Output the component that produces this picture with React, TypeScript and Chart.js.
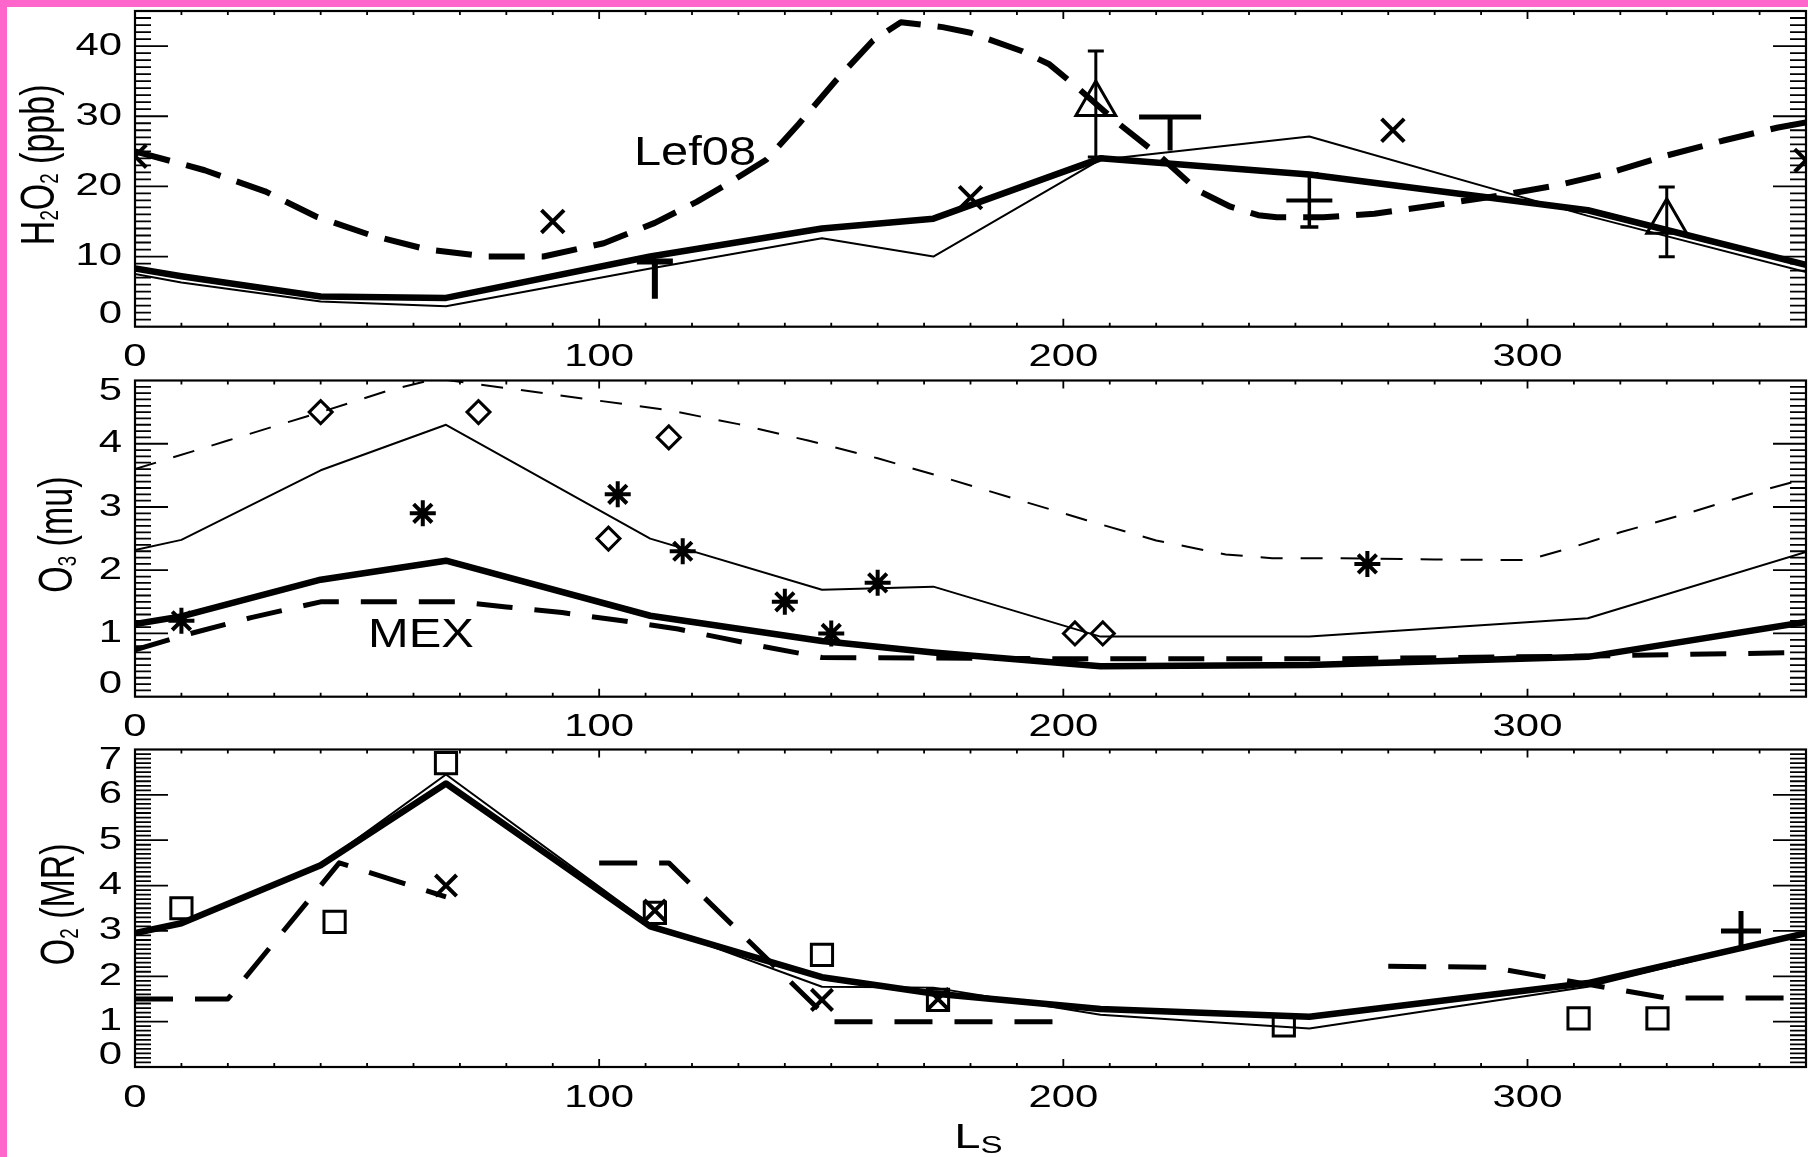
import React, { useEffect, useRef } from "react";
import { Chart, registerables } from "chart.js";

Chart.register(...registerables);

// ---------------- data ----------------
const lsTicks = [0, 100, 200, 300];
const modelLs = [0, 10, 40, 67, 111, 148, 172, 208, 253, 313, 360];

// Panel 1 : H2O2 (ppb)
const h2o2Ticks = [0, 10, 20, 30, 40];
const h2o2Thick = [8.3, 7.2, 4.3, 4.1, 10.0, 14.0, 15.4, 24.0, 21.7, 16.6, 8.8];
const h2o2Thin = [7.5, 6.3, 3.6, 2.9, 8.3, 12.6, 10.0, 23.8, 27.1, 15.8, 7.8];
const lef08Ls = [0, 15, 28, 39, 51, 63, 76, 88, 101, 112, 121, 128, 136, 143, 151, 159, 165, 174, 180, 191, 197, 203, 212, 221, 229, 236, 242, 246, 256, 267, 280, 294, 306, 317, 330, 342, 354, 360];
const lef08 = [25, 22.3, 19.3, 15.7, 13.0, 11.0, 10.0, 10.0, 11.9, 14.8, 17.8, 20.5, 23.8, 28.9, 35.1, 40.8, 43.4, 42.7, 41.9, 39.3, 37.4, 34.1, 28.9, 24.2, 19.4, 17.1, 15.9, 15.6, 15.6, 16.1, 17.3, 18.7, 20.1, 21.8, 24.4, 26.5, 28.4, 29.1];
const h2o2CrossLs = [0, 90, 180, 271, 360];
const h2o2Cross = [24.3, 15.0, 18.4, 28.0, 23.7];
const h2o2TriLs = [207, 330];
const h2o2Tri = [31.75, 14.95];
const h2o2TriErr = [7.55, 4.97];
const h2o2LimLs = [112, 223];
const h2o2LimTop = [9.3, 29.9];
const h2o2LimBase = [4.0, 25.1];
const h2o2PlusLs = [253];
const h2o2Plus = [18.0];
const h2o2PlusErr = [3.8];

// Panel 2 : O3 (mu)
const o3Ticks = [0, 1, 2, 3, 4, 5];
const o3Thick = [1.15, 1.27, 1.85, 2.15, 1.28, 0.88, 0.7, 0.48, 0.5, 0.63, 1.18];
const o3Thin = [2.32, 2.48, 3.58, 4.3, 2.5, 1.69, 1.74, 0.95, 0.95, 1.24, 2.29];
const o3DashLs = [0, 20, 40, 55, 65, 80, 100, 115, 130, 145, 160, 175, 190, 205, 220, 235, 245, 260, 280, 300, 310, 320, 335, 350, 360];
const o3Dash = [3.6, 4.05, 4.5, 4.85, 5.03, 4.88, 4.68, 4.53, 4.31, 4.05, 3.77, 3.45, 3.12, 2.79, 2.47, 2.25, 2.19, 2.19, 2.17, 2.16, 2.37, 2.6, 2.91, 3.25, 3.45];
const mexLs = [0, 12, 25, 40, 70, 80, 92, 105, 117, 125, 135, 148, 200, 260, 310, 360];
const mex = [0.74, 1.0, 1.25, 1.5, 1.5, 1.42, 1.33, 1.2, 1.07, 0.95, 0.8, 0.62, 0.6, 0.6, 0.64, 0.7];
const o3DiamondLs = [40, 74, 102, 115, 202.5, 208.5];
const o3Diamond = [4.5, 4.5, 2.5, 4.1, 1.0, 1.0];
const o3StarLs = [10, 62, 104, 118, 140, 150, 160, 265.5];
const o3Star = [1.2, 2.9, 3.2, 2.3, 1.5, 1.0, 1.8, 2.1];

// Panel 3 : O2 (MR)
const o2Ticks = [0, 1, 2, 3, 4, 5, 6, 7];
const o2Thick = [2.95, 3.17, 4.45, 6.25, 3.1, 1.98, 1.62, 1.28, 1.11, 1.85, 2.95];
const o2Thin = [2.95, 3.15, 4.45, 6.45, 3.15, 1.77, 1.75, 1.15, 0.85, 1.77, 2.95];
const o2DashALs = [0, 20, 44, 67];
const o2DashA = [1.5, 1.5, 4.5, 3.75];
const o2DashBLs = [100, 115, 150, 200];
const o2DashB = [4.5, 4.5, 1.0, 1.0];
const o2DashCLs = [270, 292, 330, 360];
const o2DashC = [2.22, 2.2, 1.52, 1.52];
const o2SquareLs = [10, 43, 67, 112, 148, 173, 247.5, 311, 328];
const o2Square = [3.5, 3.2, 6.7, 3.4, 2.47, 1.48, 0.92, 1.07, 1.07];
const o2CrossLs = [67, 112, 148, 173];
const o2Cross = [4.0, 3.45, 1.48, 1.5];
const o2PlusLs = [346];
const o2Plus = [3.0];

// ---------------- helpers ----------------
const BLACK = "#000";
const FONT = '"Liberation Sans", Arial, Helvetica, sans-serif';
const pts = (xs: number[], ys: number[]) => xs.map((x, i) => ({ x, y: ys[i] }));

function lineDs(xs: number[], ys: number[], width: number, dash: number[] = []) {
  return {
    data: pts(xs, ys),
    showLine: true,
    borderColor: BLACK,
    borderWidth: width,
    borderDash: dash,
    borderCapStyle: "butt",
    borderJoinStyle: "round",
    pointRadius: 0,
    fill: false,
    tension: 0,
    clip: 0,
  };
}

function markerDs(xs: number[], ys: number[], style: string, radius: number, width: number) {
  return {
    data: pts(xs, ys),
    showLine: false,
    pointStyle: style,
    pointRadius: radius,
    pointBorderWidth: width,
    pointBorderColor: BLACK,
    pointBackgroundColor: "rgba(0,0,0,0)",
    clip: 0,
  };
}

function barDs(x: number, lo: number, hi: number, capLo: number, capHi: number, width: number) {
  return {
    data: [{ x, y: lo }, { x, y: hi }],
    showLine: true,
    borderColor: BLACK,
    borderWidth: width,
    pointStyle: "line",
    pointRadius: [capLo, capHi],
    pointBorderWidth: width,
    pointBorderColor: BLACK,
    clip: 0,
  };
}

type Seg = { t: string; sub?: boolean };

function richWidth(ctx: any, segs: Seg[], size: number, subRatio: number) {
  let w = 0;
  for (const s of segs) {
    ctx.font = `${s.sub ? size * subRatio : size}px ${FONT}`;
    w += ctx.measureText(s.t).width;
  }
  return w;
}

function drawRich(ctx: any, segs: Seg[], x0: number, size: number, subRatio: number, subDrop: number) {
  let x = x0;
  for (const s of segs) {
    ctx.font = `${s.sub ? size * subRatio : size}px ${FONT}`;
    ctx.fillText(s.t, x, s.sub ? subDrop : 0);
    x += ctx.measureText(s.t).width;
  }
}

const SX = 1.35;

const idlPlugin = {
  id: "idl",
  afterDraw(chart: any) {
    const o = chart.options.plugins.idl;
    if (!o) return;
    const ctx = chart.ctx;
    const a = chart.chartArea;
    const xs = chart.scales.x;
    const ys = chart.scales.y;
    ctx.save();
    ctx.strokeStyle = BLACK;
    ctx.fillStyle = BLACK;
    ctx.lineCap = "butt";

    // ticks on all four sides
    ctx.lineWidth = 1.8;
    ctx.beginPath();
    const nY = Math.round((ys.max - ys.min) / o.yMinor);
    for (let i = 1; i < nY; i++) {
      const v = ys.min + i * o.yMinor;
      const y = ys.getPixelForValue(v);
      const major = o.yTicks.some((t: number) => Math.abs(t - v) < 1e-6);
      const len = major ? 33 : 16;
      ctx.moveTo(a.left, y);
      ctx.lineTo(a.left + len, y);
      ctx.moveTo(a.right, y);
      ctx.lineTo(a.right - len, y);
    }
    const nX = Math.round((xs.max - xs.min) / 10);
    for (let i = 1; i < nX; i++) {
      const v = xs.min + i * 10;
      const x = xs.getPixelForValue(v);
      const major = lsTicks.some((t) => Math.abs(t - v) < 1e-6);
      const len = major ? 8 : 4;
      ctx.moveTo(x, a.bottom);
      ctx.lineTo(x, a.bottom - len);
      ctx.moveTo(x, a.top);
      ctx.lineTo(x, a.top + len);
    }
    ctx.stroke();

    // frame
    ctx.lineWidth = 2.2;
    ctx.strokeRect(a.left, a.top, a.right - a.left, a.bottom - a.top);

    // tick labels
    const tf = 31;
    ctx.font = `${tf}px ${FONT}`;
    ctx.textBaseline = "middle";
    for (const t of o.yTicks) {
      let y = ys.getPixelForValue(t);
      y = Math.min(Math.max(y, a.top + 11), a.bottom - 12);
      ctx.save();
      ctx.translate(a.left - 13, y);
      ctx.scale(SX, 1);
      ctx.textAlign = "right";
      ctx.fillText(String(t), 0, 0);
      ctx.restore();
    }
    for (const t of lsTicks) {
      const x = xs.getPixelForValue(t);
      ctx.save();
      ctx.translate(x, a.bottom + 31);
      ctx.scale(SX, 1);
      ctx.textAlign = "center";
      ctx.fillText(String(t), 0, 0);
      ctx.restore();
    }

    // y title (rotated, with subscripts)
    ctx.textBaseline = "alphabetic";
    ctx.textAlign = "left";
    {
      const size = 34;
      const w = richWidth(ctx, o.title, size, 0.55);
      ctx.save();
      ctx.translate(o.titleX, (a.top + a.bottom) / 2 - 4);
      ctx.rotate(-Math.PI / 2);
      ctx.scale(1, 1.42);
      drawRich(ctx, o.title, -w / 2, size, 0.55, 3);
      ctx.restore();
    }

    // in-plot annotation
    if (o.note) {
      const x = xs.getPixelForValue(o.note.ls);
      const y = ys.getPixelForValue(o.note.v);
      ctx.save();
      ctx.translate(x, y);
      ctx.scale(1.22, 1);
      ctx.font = `40px ${FONT}`;
      ctx.fillText(o.note.text, 0, 0);
      ctx.restore();
    }

    // x title
    if (o.xTitle) {
      const size = 35;
      const w = richWidth(ctx, o.xTitle, size, 0.7);
      ctx.save();
      ctx.translate((a.left + a.right) / 2 + 8, a.bottom + 81);
      ctx.scale(1.35, 1);
      drawRich(ctx, o.xTitle, -w / 2, size, 0.7, 5);
      ctx.restore();
    }
    ctx.restore();
  },
};

function makeConfig(datasets: any[], yMax: number, pad: any, idl: any) {
  return {
    type: "scatter",
    data: { datasets },
    options: {
      responsive: false,
      animation: false,
      devicePixelRatio: 1,
      events: [],
      layout: { padding: pad, autoPadding: false },
      scales: {
        x: { type: "linear", min: 0, max: 360, display: false },
        y: { type: "linear", min: 0, max: yMax, display: false },
      },
      plugins: {
        legend: { display: false },
        tooltip: { enabled: false },
        idl,
      },
    },
    plugins: [idlPlugin],
  };
}

function panel1() {
  const ds: any[] = [
    markerDs(h2o2CrossLs, h2o2Cross, "crossRot", 16, 4),
    markerDs(h2o2TriLs, h2o2Tri, "triangle", 23, 3),
    markerDs(h2o2PlusLs, h2o2Plus, "line", 23, 4),
    ...h2o2TriLs.map((x, i) => barDs(x, h2o2Tri[i] - h2o2TriErr[i], h2o2Tri[i] + h2o2TriErr[i], 8, 8, 3)),
    ...h2o2PlusLs.map((x, i) => barDs(x, h2o2Plus[i] - h2o2PlusErr[i], h2o2Plus[i] + h2o2PlusErr[i], 9, 9, 3.5)),
    ...h2o2LimLs.map((x, i) => barDs(x, h2o2LimBase[i], h2o2LimTop[i], 0, i === 0 ? 18 : 31, i === 0 ? 6 : 5)),
    lineDs(lef08Ls, lef08, 6, [36, 17]),
    lineDs(modelLs, h2o2Thick, 6.5),
    lineDs(modelLs, h2o2Thin, 2),
  ];
  return makeConfig(ds, 45, { left: 135, right: 2, top: 11, bottom: 53.3 }, {
    yTicks: h2o2Ticks,
    yMinor: 1,
    titleX: 54,
    title: [{ t: "H" }, { t: "2", sub: true }, { t: "O" }, { t: "2", sub: true }, { t: " (ppb)" }],
    note: { text: "Lef08", ls: 107.5, v: 23.0 },
  });
}

function panel2() {
  const ds: any[] = [
    markerDs(o3DiamondLs, o3Diamond, "rectRot", 11.5, 3),
    markerDs(o3StarLs, o3Star, "star", 13, 4),
    lineDs(mexLs, mex, 5, [36, 22]),
    lineDs(o3DashLs, o3Dash, 2, [22, 18]),
    lineDs(modelLs, o3Thick, 6.5),
    lineDs(modelLs, o3Thin, 2),
  ];
  return makeConfig(ds, 5, { left: 135, right: 2, top: 40.5, bottom: 48.3 }, {
    yTicks: o3Ticks,
    yMinor: 0.1,
    titleX: 72,
    title: [{ t: "O" }, { t: "3", sub: true }, { t: " (mu)" }],
    note: { text: "MEX", ls: 50.2, v: 0.78 },
  });
}

function panel3() {
  const ds: any[] = [
    markerDs(o2SquareLs, o2Square, "rect", 15, 3),
    markerDs(o2CrossLs, o2Cross, "crossRot", 15, 4),
    markerDs(o2PlusLs, o2Plus, "cross", 20, 5),
    lineDs(o2DashALs, o2DashA, 5, [38, 22]),
    lineDs(o2DashBLs, o2DashB, 5, [38, 22]),
    lineDs(o2DashCLs, o2DashC, 5, [38, 22]),
    lineDs(modelLs, o2Thick, 6.5),
    lineDs(modelLs, o2Thin, 2),
  ];
  return makeConfig(ds, 7, { left: 135, right: 2, top: 44.5, bottom: 90 }, {
    yTicks: o2Ticks,
    yMinor: 0.1,
    titleX: 74,
    title: [{ t: "O" }, { t: "2", sub: true }, { t: " (MR)" }],
    xTitle: [{ t: "L" }, { t: "S", sub: true }],
  });
}

export default function App() {
  const r1 = useRef<HTMLCanvasElement>(null);
  const r2 = useRef<HTMLCanvasElement>(null);
  const r3 = useRef<HTMLCanvasElement>(null);

  useEffect(() => {
    const charts = [
      new Chart(r1.current as any, panel1() as any),
      new Chart(r2.current as any, panel2() as any),
      new Chart(r3.current as any, panel3() as any),
    ];
    return () => charts.forEach((c) => c.destroy());
  }, []);

  const cv = (top: number, h: number): React.CSSProperties => ({
    position: "absolute",
    left: 0,
    top,
    width: 1808,
    height: h,
  });

  return (
    <div style={{ position: "absolute", left: 0, top: 0, width: 1808, height: 1157, background: "#fff", overflow: "hidden" }}>
      <div style={{ position: "absolute", left: 0, top: 0, width: 1808, height: 7, background: "#ff66cc" }} />
      <div style={{ position: "absolute", left: 0, top: 0, width: 7, height: 1157, background: "#ff66cc" }} />
      <canvas ref={r1} width={1808} height={380} style={cv(0, 380)} />
      <canvas ref={r2} width={1808} height={405} style={cv(340, 405)} />
      <canvas ref={r3} width={1808} height={452} style={cv(705, 452)} />
    </div>
  );
}
